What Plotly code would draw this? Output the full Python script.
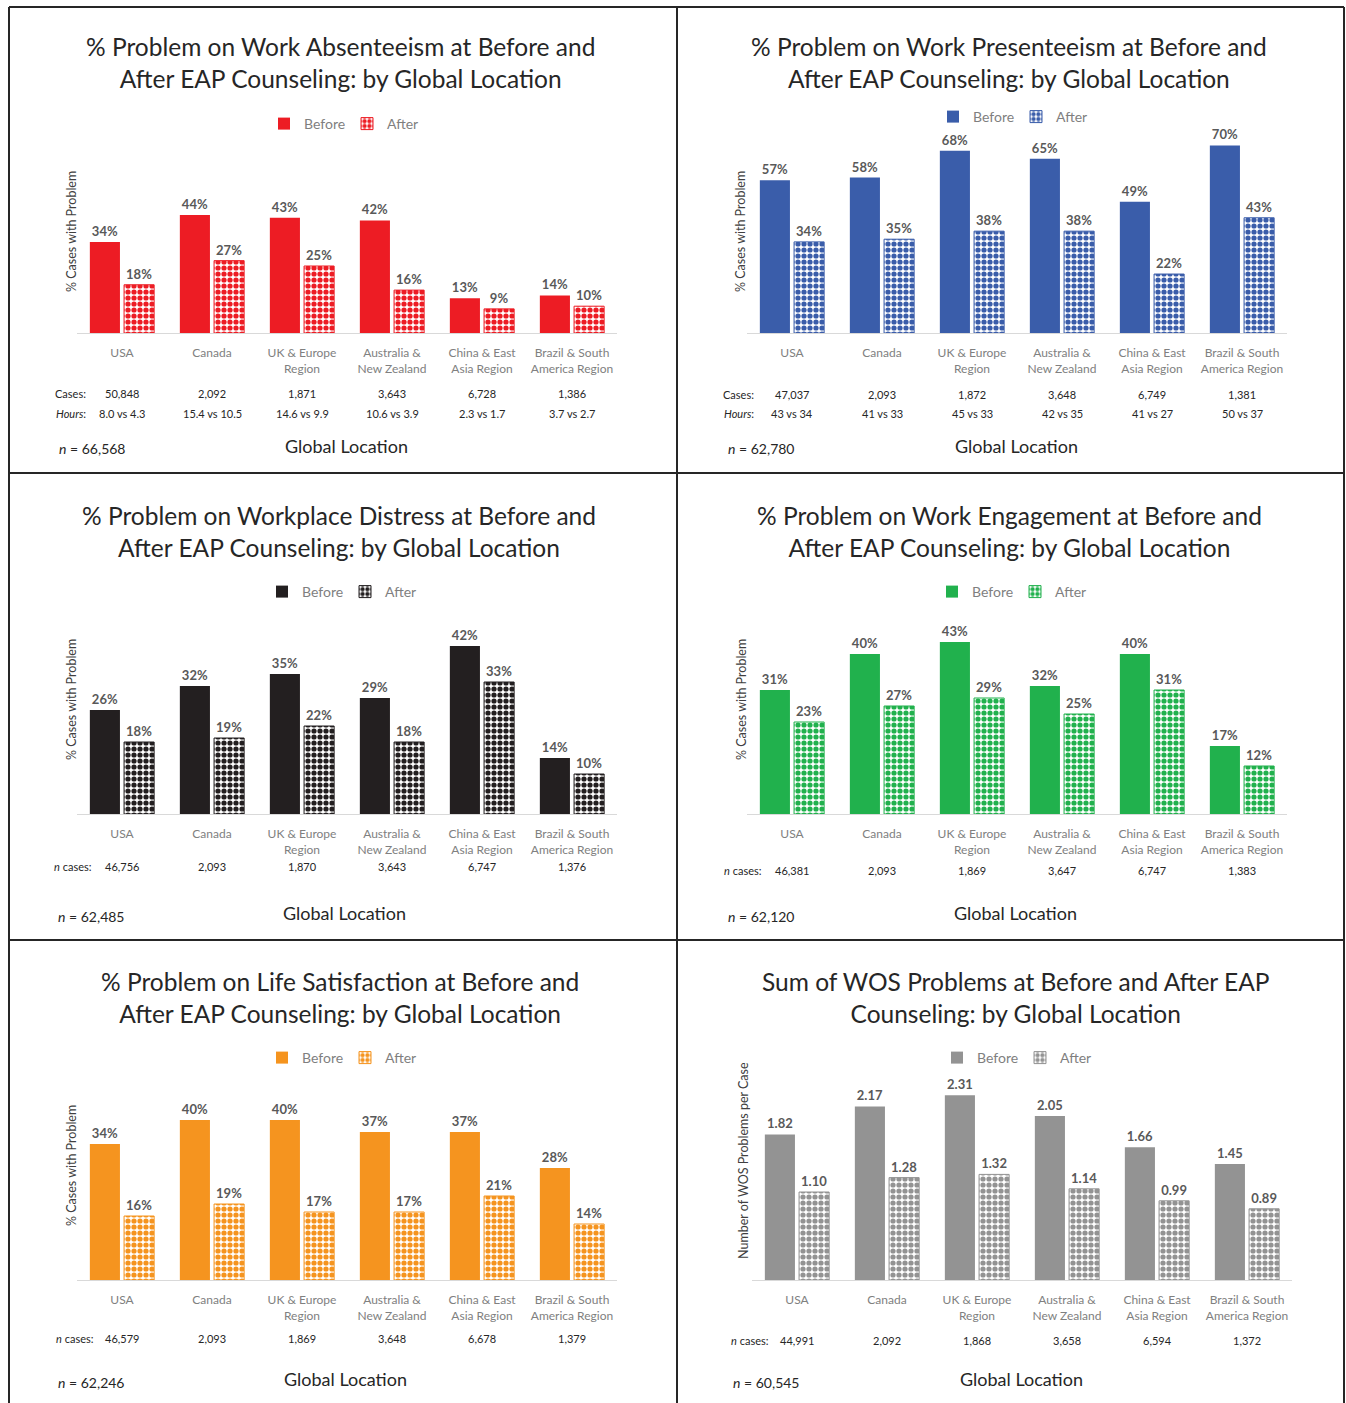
import plotly.graph_objects as go

W, H = 1346, 1403
FONT = "Lato"

# ---------------- data ----------------
categories = ["USA", "Canada", "UK & Europe<br>Region", "Australia &<br>New Zealand",
              "China & East<br>Asia Region", "Brazil & South<br>America Region"]

titles = [
    "% Problem on Work Absenteeism at Before and<br>After EAP Counseling: by Global Location",
    "% Problem on Work Presenteeism at Before and<br>After EAP Counseling: by Global Location",
    "% Problem on Workplace Distress at Before and<br>After EAP Counseling: by Global Location",
    "% Problem on Work Engagement at Before and<br>After EAP Counseling: by Global Location",
    "% Problem on Life Satisfaction at Before and<br>After EAP Counseling: by Global Location",
    "Sum of WOS Problems at Before and After EAP<br>Counseling: by Global Location",
]

absent_before = [34, 44, 43, 42, 13, 14]
absent_after = [18, 27, 25, 16, 9, 10]
absent_cases = ["50,848", "2,092", "1,871", "3,643", "6,728", "1,386"]
absent_hours = ["8.0 vs 4.3", "15.4 vs 10.5", "14.6 vs 9.9", "10.6 vs 3.9", "2.3 vs 1.7", "3.7 vs 2.7"]
absent_n = "66,568"

present_before = [57, 58, 68, 65, 49, 70]
present_after = [34, 35, 38, 38, 22, 43]
present_cases = ["47,037", "2,093", "1,872", "3,648", "6,749", "1,381"]
present_hours = ["43 vs 34", "41 vs 33", "45 vs 33", "42 vs 35", "41 vs 27", "50 vs 37"]
present_n = "62,780"

distress_before = [26, 32, 35, 29, 42, 14]
distress_after = [18, 19, 22, 18, 33, 10]
distress_cases = ["46,756", "2,093", "1,870", "3,643", "6,747", "1,376"]
distress_n = "62,485"

engage_before = [31, 40, 43, 32, 40, 17]
engage_after = [23, 27, 29, 25, 31, 12]
engage_cases = ["46,381", "2,093", "1,869", "3,647", "6,747", "1,383"]
engage_n = "62,120"

life_before = [34, 40, 40, 37, 37, 28]
life_after = [16, 19, 17, 17, 21, 14]
life_cases = ["46,579", "2,093", "1,869", "3,648", "6,678", "1,379"]
life_n = "62,246"

wos_before = [1.82, 2.17, 2.31, 2.05, 1.66, 1.45]
wos_after = [1.10, 1.28, 1.32, 1.14, 0.99, 0.89]
wos_cases = ["44,991", "2,092", "1,868", "3,658", "6,594", "1,372"]
wos_n = "60,545"

# ---------------- panel styling / positions (pixels) ----------------
panels = [
    dict(before=absent_before, after=absent_after, cases=absent_cases, hours=absent_hours, n=absent_n,
         color="#ED1C24", x0=77, base=333, top=133, scale=2.68, fmt="%{y}%",
         ytitle="% Cases with Problem", ytx=72, yty=232, tx=340, ty=63, lx=347, ly=124,
         rowy=[393, 413], labx=88, ny=448, nx=57, glx=347, gly=446),
    dict(before=present_before, after=present_after, cases=present_cases, hours=present_hours, n=present_n,
         color="#3A5DAA", x0=747, base=333, top=133, scale=2.68, fmt="%{y}%",
         ytitle="% Cases with Problem", ytx=741, yty=232, tx=1009, ty=63, lx=1016, ly=117,
         rowy=[394, 413], labx=756, ny=448, nx=726, glx=1016, gly=446),
    dict(before=distress_before, after=distress_after, cases=distress_cases, hours=None, n=distress_n,
         color="#231F20", x0=77, base=814, top=614, scale=4.0, fmt="%{y}%",
         ytitle="% Cases with Problem", ytx=71, yty=700, tx=339, ty=531, lx=345, ly=592,
         rowy=[866], labx=94, ny=916, nx=56, glx=345, gly=913),
    dict(before=engage_before, after=engage_after, cases=engage_cases, hours=None, n=engage_n,
         color="#21B14D", x0=747, base=814, top=614, scale=4.0, fmt="%{y}%",
         ytitle="% Cases with Problem", ytx=741, yty=700, tx=1009, ty=531, lx=1015, ly=592,
         rowy=[870], labx=764, ny=916, nx=726, glx=1015, gly=913),
    dict(before=life_before, after=life_after, cases=life_cases, hours=None, n=life_n,
         color="#F5941F", x0=77, base=1280, top=1080, scale=4.0, fmt="%{y}%",
         ytitle="% Cases with Problem", ytx=71, yty=1166, tx=340, ty=997, lx=345, ly=1058,
         rowy=[1338], labx=96, ny=1382, nx=56, glx=346, gly=1379),
    dict(before=wos_before, after=wos_after, cases=wos_cases, hours=None, n=wos_n,
         color="#939393", x0=752, base=1280, top=1080, scale=80.0, fmt="%{y:.2f}",
         ytitle="Number of WOS Problems per Case", ytx=743, yty=1161, tx=1015, ty=997, lx=1020, ly=1058,
         rowy=[1340], labx=771, ny=1382, nx=731, glx=1021, gly=1379),
]

CAT_W = 90


def fx(x):
    return x / W


def fy(y):
    return 1 - y / H


fig = go.Figure()
annotations = []
layout_axes = {}

for i, p in enumerate(panels):
    k = "" if i == 0 else str(i + 1)
    xa, ya = "x" + k, "y" + k
    leg = "legend" + k
    x0 = p["x0"]
    x1 = x0 + CAT_W * 6
    ymax = (p["base"] - p["top"]) / p["scale"]

    fig.add_trace(go.Bar(
        x=categories, y=p["before"], name="Before", xaxis=xa, yaxis=ya, legend=leg,
        marker=dict(color=p["color"], line=dict(width=0)),
        texttemplate="<b>" + p["fmt"] + "</b>", textposition="outside", cliponaxis=False,
        textfont=dict(family=FONT, size=13, color="#595959"), hoverinfo="skip"))
    fig.add_trace(go.Bar(
        x=categories, y=p["after"], name="After", xaxis=xa, yaxis=ya, legend=leg,
        marker=dict(color="white", line=dict(color=p["color"], width=1),
                    pattern=dict(shape=".", fgcolor=p["color"], bgcolor="white",
                                 size=6, solidity=0.6, fillmode="replace", fgopacity=1)),
        texttemplate="<b>" + p["fmt"] + "</b>", textposition="outside", cliponaxis=False,
        textfont=dict(family=FONT, size=13, color="#595959"), hoverinfo="skip"))

    layout_axes["xaxis" + k] = dict(
        domain=[fx(x0), fx(x1)], anchor=ya, type="category",
        showline=True, linecolor="#d9d9d9", linewidth=1, showgrid=False, zeroline=False,
        ticks="outside", ticklen=9, tickcolor="rgba(0,0,0,0)",
        tickfont=dict(family=FONT, size=12, color="#808080"), fixedrange=True)
    layout_axes["yaxis" + k] = dict(
        domain=[fy(p["base"]), fy(p["top"])], anchor=xa, range=[0, ymax],
        visible=False, fixedrange=True)
    layout_axes[leg] = dict(
        orientation="h", x=fx(p["lx"]), y=fy(p["ly"]), xanchor="center", yanchor="middle",
        font=dict(family=FONT, size=14, color="#7f7f7f"), bgcolor="rgba(0,0,0,0)",
        itemwidth=30, entrywidth=38, traceorder="normal", itemclick=False, itemdoubleclick=False)

    # title
    annotations.append(dict(text=titles[i], x=fx(p["tx"]), y=fy(p["ty"]),
                            xref="paper", yref="paper", showarrow=False, xanchor="center",
                            yanchor="middle", font=dict(family=FONT, size=24.5, color="#262626")))
    # y title
    annotations.append(dict(text=p["ytitle"], x=fx(p["ytx"]), y=fy(p["yty"]), xref="paper",
                            yref="paper", showarrow=False, textangle=-90, xanchor="center",
                            yanchor="middle", font=dict(family=FONT, size=12.5, color="#404040")))
    # rows of cases / hours
    if p["hours"] is not None:
        rows = [("Cases:", p["cases"]), ("<i>Hours</i>:", p["hours"])]
    else:
        rows = [("<i>n</i> cases:", p["cases"])]
    for (lab, vals), ry in zip(rows, p["rowy"]):
        annotations.append(dict(text=lab, x=fx(p["labx"]), y=fy(ry), xref="paper", yref="paper",
                                showarrow=False, xanchor="right", yanchor="middle",
                                font=dict(family=FONT, size=11, color="#262626")))
        for j, v in enumerate(vals):
            annotations.append(dict(text=v, x=j, xref=xa, y=fy(ry), yref="paper",
                                    showarrow=False, xanchor="center", yanchor="middle",
                                    font=dict(family=FONT, size=11, color="#262626")))
    # n = ...
    annotations.append(dict(text="<i>n</i> = " + p["n"], x=fx(p["nx"]), y=fy(p["ny"]),
                            xref="paper", yref="paper", showarrow=False, xanchor="left",
                            yanchor="middle", font=dict(family=FONT, size=14, color="#262626")))
    annotations.append(dict(text="Global Location", x=fx(p["glx"]), y=fy(p["gly"]),
                            xref="paper", yref="paper", showarrow=False, xanchor="center",
                            yanchor="middle", font=dict(family=FONT, size=18, color="#262626")))

# panel borders
BL, BR, BT = 9, 1344, 7
shapes = []
line = dict(color="#262626", width=2)
for (xa0, ya0, xa1, ya1) in [(BL, BT, BR, BT), (BL, BT, BL, H), (BR, BT, BR, H), (677, BT, 677, H),
                             (BL, 473, BR, 473), (BL, 940, BR, 940)]:
    shapes.append(dict(type="line", xref="paper", yref="paper", x0=fx(xa0), y0=fy(ya0),
                       x1=fx(xa1), y1=fy(ya1), line=line))

fig.update_layout(
    width=W, height=H, margin=dict(l=0, r=0, t=0, b=0, pad=0),
    paper_bgcolor="white", plot_bgcolor="white",
    barmode="group", bargap=0.24, bargroupgap=0.12,
    font=dict(family=FONT, color="#262626"),
    annotations=annotations, shapes=shapes, showlegend=True,
    **layout_axes)

fig.write_html("out.html")
